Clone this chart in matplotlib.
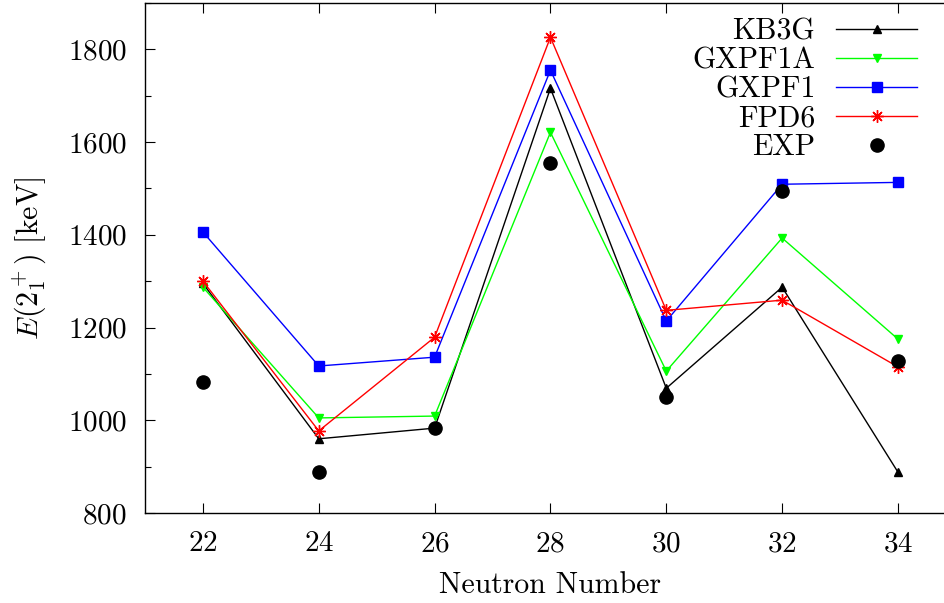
import numpy as np
import matplotlib
matplotlib.use("Agg")
import matplotlib.pyplot as plt
from matplotlib.ticker import MultipleLocator

plt.rcParams['font.family'] = 'serif'
plt.rcParams['font.serif'] = ['cmr10']
plt.rcParams['mathtext.fontset'] = 'cm'
plt.rcParams['axes.formatter.use_mathtext'] = True
plt.rcParams['font.size'] = 21

# data -------------------------------------------------------
neutrons = [22, 24, 26, 28, 30, 32, 34]
kb3g = [1295, 960, 983, 1716, 1069, 1287, 888]
gxpf1a = [1287, 1005, 1009, 1621, 1106, 1393, 1175]
gxpf1 = [1406, 1117, 1136, 1755, 1214, 1509, 1513]
fpd6 = [1300, 977, 1179, 1826, 1237, 1259, 1115]
exp = [1083, 888, 983, 1554, 1050, 1494, 1128]

# plotting ---------------------------------------------------
fig = plt.figure(figsize=(9.44, 6.03), dpi=100)
ax = fig.add_axes([0.1536, 0.1493, 0.859, 0.8458])

ax.plot(neutrons, kb3g, color='black', lw=1.0, marker='^', ms=6, label='KB3G')
ax.plot(neutrons, gxpf1a, color='#00ff00', lw=1.0, marker='v', ms=6, label='GXPF1A')
ax.plot(neutrons, gxpf1, color='blue', lw=1.0, marker='s', ms=6.5, label='GXPF1')
ax.plot(neutrons, fpd6, color='red', lw=1.0, marker=(8, 2, 0), ms=9, mew=1.0, label='FPD6')
ax.plot(neutrons, exp, color='black', ls='none', marker='o', ms=9.5, label='EXP')

ax.set_xlim(21, 35)
ax.set_ylim(800, 1900)
ax.set_xticks(neutrons)
ax.yaxis.set_major_locator(MultipleLocator(200))
ax.yaxis.set_minor_locator(MultipleLocator(100))
ax.tick_params(which='both', direction='in', top=True, right=False)
ax.tick_params(which='major', length=7, width=0.8)
ax.tick_params(which='minor', length=4, width=0.8)
ax.tick_params(axis='y', pad=13)
ax.tick_params(axis='x', pad=13)
ax.spines['right'].set_visible(False)
for s in ax.spines.values():
    s.set_linewidth(1.0)

ax.set_xlabel('Neutron Number', fontsize=21.5, labelpad=10)
ax.set_ylabel(r'$E(2_1^+)$ [keV]', fontsize=21.5, labelpad=14)

ax.legend(loc='upper right', bbox_to_anchor=(0.974, 1.005), frameon=False,
          markerfirst=False, handlelength=2.7, handletextpad=0.7,
          labelspacing=0.05, fontsize=21.5, borderaxespad=0.2)

fig.savefig('out.png', dpi=100)
